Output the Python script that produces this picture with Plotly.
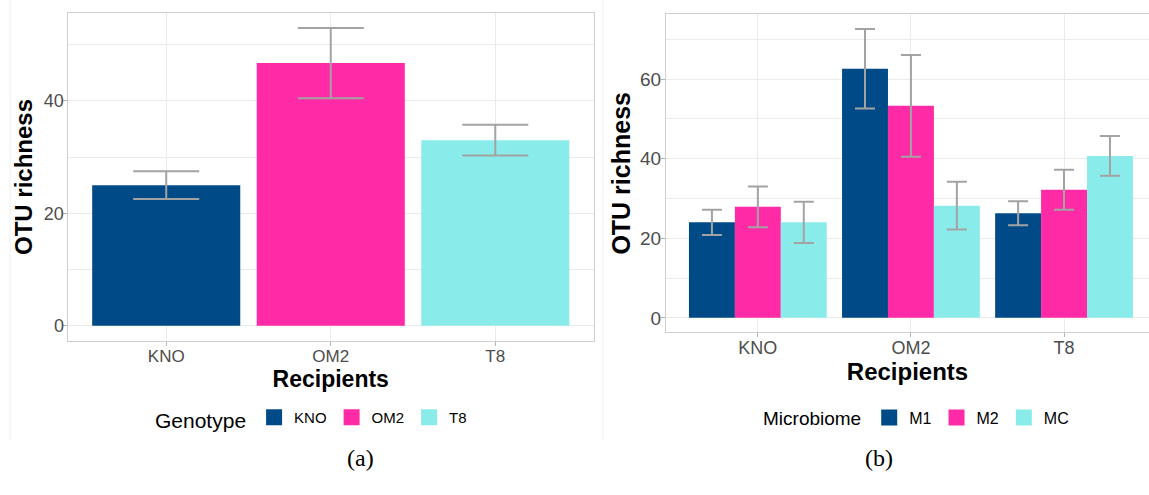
import plotly.graph_objects as go

# ---------------- data ----------------
genotypes = ["KNO", "OM2", "T8"]
richness_a = [25.0, 46.7, 33.0]
err_a = [2.45, 6.25, 2.75]

recipients = ["KNO", "OM2", "T8"]
microbiomes = ["M1", "M2", "MC"]
richness_m1 = [24.0, 62.6, 26.3]
richness_m2 = [27.9, 53.3, 32.2]
richness_mc = [24.0, 28.2, 40.7]
err_m1 = [3.2, 10.0, 3.0]
err_m2 = [5.1, 12.8, 5.0]
err_mc = [5.2, 6.0, 5.0]

colors = ["#004B87", "#FF2AA6", "#8AECEA"]
ERR_COLOR = "#A3A3A3"
GRID = "#EBEBEB"
BORDER = "#CFCFCF"
TICKCOL = "#4D4D4D"
FONT = "Liberation Sans, Arial, sans-serif"

fig = go.Figure()

# ---------------- panel (a) ----------------
for i, g in enumerate(genotypes):
    fig.add_trace(go.Bar(
        x=[g], y=[richness_a[i]], name=g, width=0.9, offset=-0.45,
        marker=dict(color=colors[i], line=dict(width=0)),
        error_y=dict(type="data", array=[err_a[i]], color=ERR_COLOR, thickness=2, width=33),
        xaxis="x", yaxis="y", showlegend=False,
    ))
    # legend key (square swatch)
    fig.add_trace(go.Scatter(
        x=[None], y=[None], mode="markers", name=g,
        marker=dict(symbol="square", size=16, color=colors[i]),
        xaxis="x", yaxis="y", legend="legend", showlegend=True,
    ))

# ---------------- panel (b) ----------------
series_b = [richness_m1, richness_m2, richness_mc]
errs_b = [err_m1, err_m2, err_mc]
for j, m in enumerate(microbiomes):
    fig.add_trace(go.Bar(
        x=recipients, y=series_b[j], name=m, width=0.3, offset=-0.45 + 0.3 * j,
        marker=dict(color=colors[j], line=dict(width=0)),
        error_y=dict(type="data", array=errs_b[j], color=ERR_COLOR, thickness=2, width=10),
        xaxis="x2", yaxis="y2", showlegend=False,
    ))
    fig.add_trace(go.Scatter(
        x=[None], y=[None], mode="markers", name=m,
        marker=dict(symbol="square", size=16, color=colors[j]),
        xaxis="x2", yaxis="y2", legend="legend2", showlegend=True,
    ))

W, H = 1149, 495

def xd(a, b):
    return [a / W, b / W]

def yd(top, bottom):
    return [1 - bottom / H, 1 - top / H]

axis_common = dict(showgrid=True, gridcolor=GRID, gridwidth=1, zeroline=False,
                   ticks="outside", ticklen=4, tickcolor="#B3B3B3", automargin=False)

fig.update_layout(
    width=W, height=H,
    margin=dict(l=0, r=0, t=0, b=0),
    paper_bgcolor="white", plot_bgcolor="white",
    barmode="overlay",
    font=dict(family=FONT, color="black"),
    xaxis=dict(domain=xd(67.5, 594), type="category", range=[-0.6, 2.6],
               categoryorder="array", categoryarray=genotypes,
               showline=True, linecolor=BORDER, linewidth=1, mirror=True,
               tickfont=dict(size=17, color=TICKCOL), ticklabelstandoff=-4,
               title=dict(text="<b>Recipients</b>", font=dict(size=23, color="black"), standoff=4),
               anchor="y", **axis_common),
    yaxis=dict(domain=yd(13.3, 340.7), range=[-2.65, 55.55], dtick=20, tick0=0,
               showline=True, linecolor=BORDER, linewidth=1, mirror=True,
               minor=dict(dtick=10, showgrid=True, gridcolor=GRID, gridwidth=1, ticks=""),
               tickfont=dict(size=18, color=TICKCOL), ticklabelstandoff=-5,
               title=dict(text="<b>OTU richness</b>", font=dict(size=24, color="black"), standoff=4),
               anchor="x", **axis_common),
    xaxis2=dict(domain=[666 / W, 1.0], type="category", range=[-0.6, 2.555],
                categoryorder="array", categoryarray=recipients,
                showline=True, linecolor=BORDER, linewidth=1, mirror=True,
                tickfont=dict(size=18, color=TICKCOL), ticklabelstandoff=-5,
                title=dict(text="<b>Recipients</b>", font=dict(size=24, color="black"), standoff=4),
                anchor="y2", **axis_common),
    yaxis2=dict(domain=yd(14.3, 332.3), range=[-3.63, 76.3], dtick=20, tick0=0,
                showline=True, linecolor=BORDER, linewidth=1, mirror=False,
                minor=dict(dtick=10, showgrid=True, gridcolor=GRID, gridwidth=1, ticks=""),
                tickfont=dict(size=19, color=TICKCOL), ticklabelstandoff=-4,
                title=dict(text="<b>OTU richness</b>", font=dict(size=25, color="black"), standoff=2),
                anchor="x2", **axis_common),
    legend=dict(orientation="h", x=153 / W, xanchor="left", y=1 - 420 / H, yanchor="middle",
                title=dict(text="Genotype", side="left", font=dict(size=21, color="black")),
                font=dict(size=15, color="black"), itemwidth=30, bgcolor="rgba(0,0,0,0)",
                traceorder="normal", itemsizing="trace"),
    legend2=dict(orientation="h", x=761 / W, xanchor="left", y=1 - 418 / H, yanchor="middle",
                 title=dict(text="Microbiome", side="left", font=dict(size=19, color="black")),
                 font=dict(size=16, color="black"), itemwidth=30, bgcolor="rgba(0,0,0,0)",
                 traceorder="normal", itemsizing="trace"),
    annotations=[
        dict(text="(a)", x=345 / W, y=1 - 473 / H, xref="paper", yref="paper",
             showarrow=False, font=dict(family="Liberation Serif, serif", size=24, color="black")),
        dict(text="(b)", x=895 / W, y=1 - 473 / H, xref="paper", yref="paper",
             showarrow=False, font=dict(family="Liberation Serif, serif", size=24, color="black")),
    ],
    shapes=[
        dict(type="line", xref="paper", yref="paper", x0=10 / W, x1=10 / W, y0=1 - 440 / H, y1=1,
             line=dict(color="#F0F0F0", width=1)),
        dict(type="line", xref="paper", yref="paper", x0=603 / W, x1=603 / W, y0=1 - 440 / H, y1=1,
             line=dict(color="#F0F0F0", width=1)),
    ],
)

fig.write_html(
    "out.html",
    config={"displayModeBar": False},
    post_script="document.body.style.margin='0';document.body.style.overflow='hidden';",
)
